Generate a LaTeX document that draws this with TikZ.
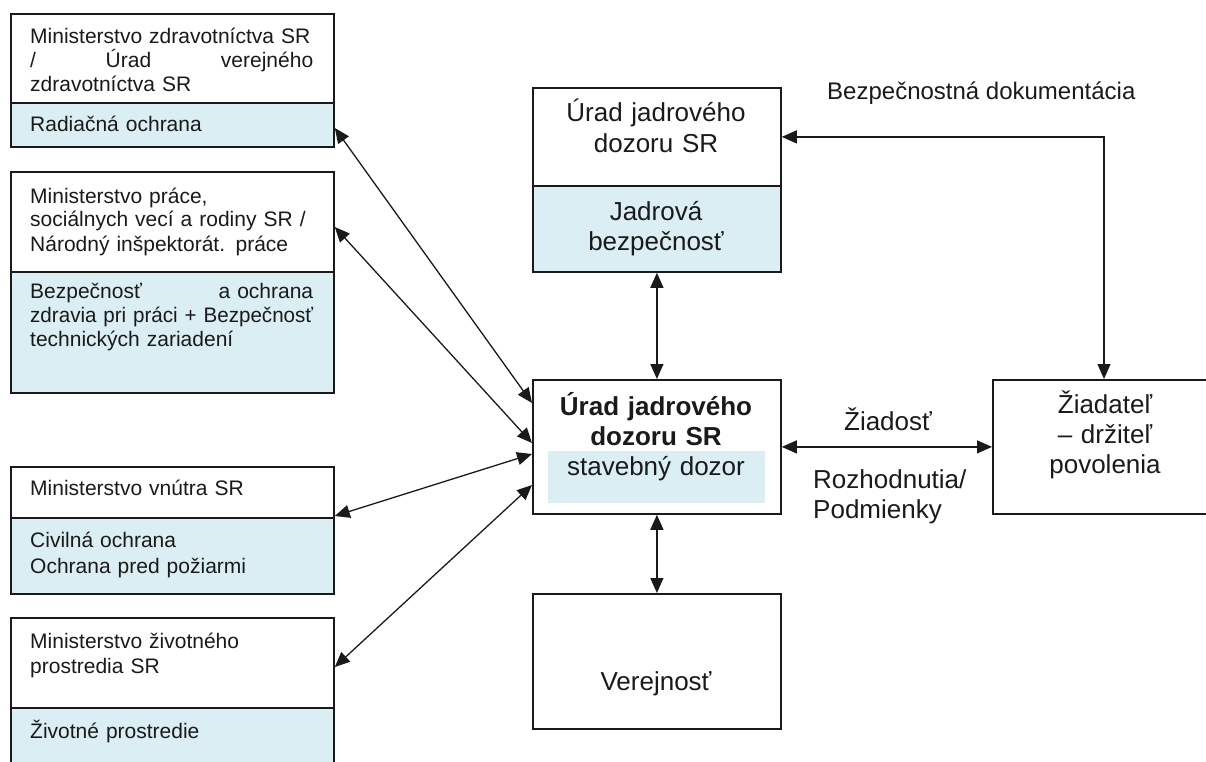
\documentclass[tikz,border=0pt]{standalone}
\usepackage{fontspec}
\usepackage{graphicx}
\setmainfont{Liberation Sans}
\usetikzlibrary{arrows.meta}
\definecolor{pale}{HTML}{DAEEF3}
\definecolor{ink}{HTML}{1A1A1A}
\begin{document}
\begin{tikzpicture}[x=1pt,y=-1pt,
  frame/.style={draw=ink, line width=1.8pt, fill=white, inner sep=0pt, anchor=north west},
  shadebox/.style={draw=ink, line width=1.8pt, fill=pale, inner sep=0pt, anchor=north west},
  lbl/.style={inner sep=0pt, text=ink},
  smalltxt/.style={font=\fontsize{21}{24}\selectfont},
  bigtxt/.style={font=\fontsize{26}{30.5}\selectfont},
  link/.style={draw=ink, line width=1.3pt, {Triangle[length=15pt,width=13pt]}-{Triangle[length=15pt,width=13pt]}}
]
\useasboundingbox (0,0) rectangle (1206,762);
\clip (0,0) rectangle (1206,762);

% left boxes
\node[frame, minimum width=323pt, minimum height=89pt] (m1a) at (10,13) {};
\node[shadebox, minimum width=323pt, minimum height=44pt] (m1b) at (10,102) {};
\node[frame, minimum width=323pt, minimum height=100pt] (m2a) at (10,171) {};
\node[shadebox, minimum width=323pt, minimum height=121pt] (m2b) at (10,271) {};
\node[frame, minimum width=323pt, minimum height=51pt] (m3a) at (10,466) {};
\node[shadebox, minimum width=323pt, minimum height=76pt] (m3b) at (10,517) {};
\node[frame, minimum width=323pt, minimum height=90pt] (m4a) at (10,617) {};
\node[shadebox, minimum width=323pt, minimum height=80pt] (m4b) at (10,707) {};

% middle boxes
\node[frame, minimum width=248pt, minimum height=98pt] (ua) at (532,87) {};
\node[shadebox, minimum width=248pt, minimum height=86pt] (ub) at (532,185) {};
\node[frame, minimum width=248pt, minimum height=134pt] (c) at (532,379) {};
\node[fill=pale, draw=none, inner sep=0pt, anchor=north west, minimum width=217pt, minimum height=52pt] (cb) at (548,451) {};
\node[frame, minimum width=248pt, minimum height=135pt] (v) at (532,593) {};

% right box
\node[frame, minimum width=240pt, minimum height=134pt] (z) at (992,379) {};

% connectors
\draw[link] (m1b.east |- 0,128) -- (c.west |- 0,403);
\draw[link] (m2a.east |- 0,227) -- (c.west |- 0,443);
\draw[link] (m3a.east |- 0,516) -- (c.west |- 0,454);
\draw[link] (m4a.east |- 0,667) -- (c.west |- 0,485);
\draw[link] (ub.south) -- (c.north);
\draw[link] (c.south) -- (v.north);
\draw[link] (c.east) -- (z.west);
\draw[link] (ua.east) -| ([xshift=112pt]z.north west);

% texts left
\node[lbl, smalltxt, text width=300pt, align=left, anchor=base west] (t1a) at (30,44)
  {Ministerstvo zdravotníctva SR\\\makebox[283pt][l]{/\hfill Úrad\hfill verejného}\\zdravotníctva SR};
\node[lbl, smalltxt, text width=300pt, align=left, anchor=base west] (t1b) at (30,132)
  {Radiačná ochrana};
\node[lbl, smalltxt, text width=300pt, align=left, anchor=base west] (t2a) at (30,203)
  {Ministerstvo práce,\\sociálnych vecí a rodiny SR /\\Národný inšpektorát. práce};
\node[lbl, smalltxt, text width=300pt, align=left, anchor=base west] (t2b) at (30,298)
  {\makebox[283pt][l]{Bezpečnosť\hfill a ochrana}\\\resizebox{283pt}{\height}{zdravia pri práci + Bezpečnosť}\\technických zariadení};
\node[lbl, smalltxt, text width=300pt, align=left, anchor=base west] (t3a) at (30,495)
  {Ministerstvo vnútra SR};
\node[lbl, smalltxt, text width=300pt, align=left, anchor=base west, font=\fontsize{21}{26}\selectfont] (t3b) at (30,547)
  {Civilná ochrana\\Ochrana pred požiarmi};
\node[lbl, smalltxt, text width=300pt, align=left, anchor=base west, font=\fontsize{21}{25}\selectfont] (t4a) at (30,648)
  {Ministerstvo životného\\prostredia SR};
\node[lbl, smalltxt, text width=300pt, align=left, anchor=base west] (t4b) at (30,738)
  {Životné prostredie};

% texts middle
\node[lbl, bigtxt, text width=240pt, align=center, anchor=base] (tua) at (656,122)
  {Úrad jadrového\\dozoru SR};
\node[lbl, bigtxt, text width=240pt, align=center, anchor=base] (tub) at (656,220)
  {Jadrová\\bezpečnosť};
\node[lbl, text width=240pt, align=center, anchor=base, font=\fontsize{26}{30}\selectfont] (tc) at (656,415)
  {\textbf{Úrad jadrového}\\\textbf{dozoru SR}\\stavebný dozor};
\node[lbl, bigtxt, text width=240pt, align=center, anchor=base] (tv) at (656,690)
  {Verejnosť};

% texts right
\node[lbl, text width=220pt, align=center, anchor=base, font=\fontsize{26}{30}\selectfont] (tz) at (1105,413)
  {Žiadateľ\\– držiteľ\\povolenia};
\node[lbl, anchor=base west, font=\fontsize{24}{28}\selectfont] (tbd) at (827,100)
  {Bezpečnostná dokumentácia};
\node[lbl, bigtxt, anchor=base] (tzi) at (888,430) {Žiadosť};
\node[lbl, text width=200pt, align=left, anchor=base west, font=\fontsize{26}{30}\selectfont] (trp) at (813,488)
  {Rozhodnutia/\\Podmienky};
\end{tikzpicture}
\end{document}
